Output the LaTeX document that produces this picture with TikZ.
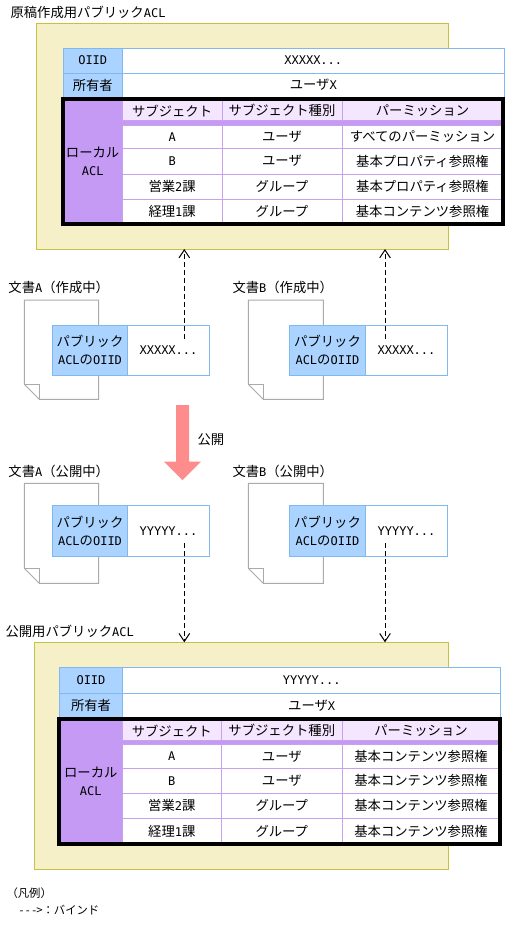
\documentclass[tikz,border=0pt]{standalone}
\usepackage{fontspec}
\setmainfont{Noto Sans CJK JP}
\newfontfamily\hwfont{DejaVu Sans Mono}
\newcommand\hw[1]{{\hwfont\fontsize{9}{13.5}\selectfont #1}}
\usetikzlibrary{arrows.meta}
\definecolor{yfill}{HTML}{F5F0C8}
\definecolor{yline}{HTML}{C8C040}
\definecolor{bfill}{HTML}{AAD4FF}
\definecolor{bline}{HTML}{80B8F0}
\definecolor{pfill}{HTML}{C49AF5}
\definecolor{plight}{HTML}{F5E6FF}
\definecolor{pline}{HTML}{C8A0F0}
\definecolor{arrowpink}{HTML}{FF8C8C}
\definecolor{docline}{HTML}{AAAAAA}
\def\bx#1#2#3#4#5{\bxi{#1}{#4}{#5}#2;#3;}
\def\bxi#1#2#3#4,#5;#6,#7;{\node[#1, minimum width={(#6-#4)*0.75pt}, minimum height={(#7-#5)*0.75pt}] (#2) at ({(#4+#6)/2},{(#5+#7)/2}) {#3};}
\begin{document}
\begin{tikzpicture}[x=0.75pt,y=-0.75pt, line width=0.75pt,
 font=\fontsize{10}{13.5}\selectfont,
 box/.style={inner sep=0pt, outer sep=0pt, align=center},
 ybox/.style={box, draw=yline, fill=yfill},
 bhead/.style={box, draw=bline, fill=bfill},
 bval/.style={box, draw=bline, fill=white},
 pcol/.style={box, fill=pfill},
 phead/.style={box, draw=pline, fill=plight},
 pcell/.style={box, draw=pline, fill=white},
 frame/.style={box, draw=black, line width=3pt},
 lbl/.style={anchor=west, inner sep=0pt},
 legendfont/.style={font=\fontsize{8.5}{10}\selectfont},
 bind/.style={dash pattern=on 3.75pt off 2.25pt, -{Straight Barb[length=6pt,width=8pt]}},
 page/.style={draw=docline, fill=white},
 ]
\useasboundingbox (0,0) rectangle (509,932);

% ---------- top ACL ----------
\node[lbl] (titleA) at (10,12) {原稿作成用パブリック\hw{ACL}};
\bx{ybox}{36,23}{448.5,249}{yellowA}{}
\bx{bhead}{63,48}{122.5,73}{oiidA}{\hw{OIID}}
\bx{bval}{122.5,48}{504,73}{oiidvA}{\hw{XXXXX...}}
\bx{bhead}{63,73}{122.5,97}{ownA}{所有者}
\bx{bval}{122.5,73}{504,97}{ownvA}{ユーザ\hw{X}}
\bx{pcol}{63,98.7}{122.3,223.7}{localA}{ローカル\\\hw{ACL}}
\bx{phead}{122.3,100.7}{222,120.7}{hsA}{サブジェクト}
\bx{phead}{222,100.7}{342,120.7}{htA}{サブジェクト種別}
\bx{phead}{342,100.7}{503,120.7}{hpA}{パーミッション}
\bx{pcol}{122.3,120.7}{503,125.3}{bandA}{}
\bx{pcell}{122.3,125.3}{222,148}{s1A}{\hw{A}}
\bx{pcell}{222,125.3}{342,148}{t1A}{ユーザ}
\bx{pcell}{342,125.3}{503,148}{p1A}{すべてのパーミッション}
\bx{pcell}{122.3,148}{222,174}{s2A}{\hw{B}}
\bx{pcell}{222,148}{342,174}{t2A}{ユーザ}
\bx{pcell}{342,148}{503,174}{p2A}{基本プロパティ参照権}
\bx{pcell}{122.3,174}{222,199}{s3A}{営業\hw{2}課}
\bx{pcell}{222,174}{342,199}{t3A}{グループ}
\bx{pcell}{342,174}{503,199}{p3A}{基本プロパティ参照権}
\bx{pcell}{122.3,199}{222,223.7}{s4A}{経理\hw{1}課}
\bx{pcell}{222,199}{342,223.7}{t4A}{グループ}
\bx{pcell}{342,199}{503,223.7}{p4A}{基本コンテンツ参照権}
\bx{frame}{63,98.7}{503,223.7}{frameA}{}

% ---------- documents (draft) ----------
\node[lbl] (docA1) at (8,287.7) {文書\hw{A}（作成中）};
\node[lbl] (docB1) at (232,287.7) {文書\hw{B}（作成中）};
\draw[page] (24.3,300) -- (98.7,300) -- (98.7,399.3) -- (39.3,399.3) -- (24.3,384.3) -- cycle;
\draw[docline] (24.3,384.3) -- (39.3,384.3) -- (39.3,399.3);
\draw[page] (248.3,300) -- (323.3,300) -- (323.3,399.3) -- (263.3,399.3) -- (248.3,384.3) -- cycle;
\draw[docline] (248.3,384.3) -- (263.3,384.3) -- (263.3,399.3);
\bx{bhead}{52.3,325.3}{127.7,375.3}{pubA1}{パブリック\\\hw{ACL}の\hw{OIID}}
\bx{bval}{127.7,325.3}{209.3,375.3}{valA1}{\hw{XXXXX...}}
\bx{bhead}{289.3,325.3}{365.7,375.3}{pubB1}{パブリック\\\hw{ACL}の\hw{OIID}}
\bx{bval}{365.7,325.3}{447.3,375.3}{valB1}{\hw{XXXXX...}}
\coordinate (srcA1) at (184.3,339);
\coordinate (srcB1) at (385,339);
\draw[bind] (srcA1) -- (srcA1 |- yellowA.south);
\draw[bind] (srcB1) -- (srcB1 |- yellowA.south);

% ---------- publish arrow ----------
\fill[arrowpink] (176,405) -- (189,405) -- (189,461.7) -- (201,461.7) -- (182.5,480) -- (164,461.7) -- (176,461.7) -- cycle;
\node[lbl] (pub) at (197,440) {公開};

% ---------- documents (published) ----------
\node[lbl] (docA2) at (8,471) {文書\hw{A}（公開中）};
\node[lbl] (docB2) at (232,471) {文書\hw{B}（公開中）};
\draw[page] (24.3,483.3) -- (98.7,483.3) -- (98.7,583.3) -- (39.3,583.3) -- (24.3,568.3) -- cycle;
\draw[docline] (24.3,568.3) -- (39.3,568.3) -- (39.3,583.3);
\draw[page] (248.3,483.3) -- (323.3,483.3) -- (323.3,583.3) -- (263.3,583.3) -- (248.3,568.3) -- cycle;
\draw[docline] (248.3,568.3) -- (263.3,568.3) -- (263.3,583.3);
\bx{bhead}{52.3,505.5}{127.7,556}{pubA2}{パブリック\\\hw{ACL}の\hw{OIID}}
\bx{bval}{127.7,505.5}{209.3,556}{valA2}{\hw{YYYYY...}}
\bx{bhead}{289.3,505.5}{365.7,556}{pubB2}{パブリック\\\hw{ACL}の\hw{OIID}}
\bx{bval}{365.7,505.5}{447.3,556}{valB2}{\hw{YYYYY...}}

% ---------- bottom ACL ----------
\node[lbl] (titleB) at (5,631.7) {公開用パブリック\hw{ACL}};
\bx{ybox}{34.3,642.3}{448.7,869}{yellowB}{}
\coordinate (srcA2) at (184.3,543);
\coordinate (srcB2) at (385,543);
\draw[bind] (srcA2) -- (srcA2 |- yellowB.north);
\draw[bind] (srcB2) -- (srcB2 |- yellowB.north);
\bx{bhead}{59.3,667.7}{122.7,693.3}{oiidB}{\hw{OIID}}
\bx{bval}{122.7,667.7}{500.7,693.3}{oiidvB}{\hw{YYYYY...}}
\bx{bhead}{59.3,693.3}{122.7,717}{ownB}{所有者}
\bx{bval}{122.7,693.3}{500.7,717}{ownvB}{ユーザ\hw{X}}
\bx{pcol}{59.3,718.7}{122.3,843.7}{localB}{ローカル\\\hw{ACL}}
\bx{phead}{122.3,720.7}{221.3,740.7}{hsB}{サブジェクト}
\bx{phead}{221.3,720.7}{342.3,740.7}{htB}{サブジェクト種別}
\bx{phead}{342.3,720.7}{499.7,740.7}{hpB}{パーミッション}
\bx{pcol}{122.3,740.7}{499.7,744.7}{bandB}{}
\bx{pcell}{122.3,744.7}{221.3,768.3}{s1B}{\hw{A}}
\bx{pcell}{221.3,744.7}{342.3,768.3}{t1B}{ユーザ}
\bx{pcell}{342.3,744.7}{499.7,768.3}{p1B}{基本コンテンツ参照権}
\bx{pcell}{122.3,768.3}{221.3,793.3}{s2B}{\hw{B}}
\bx{pcell}{221.3,768.3}{342.3,793.3}{t2B}{ユーザ}
\bx{pcell}{342.3,768.3}{499.7,793.3}{p2B}{基本コンテンツ参照権}
\bx{pcell}{122.3,793.3}{221.3,818.3}{s3B}{営業\hw{2}課}
\bx{pcell}{221.3,793.3}{342.3,818.3}{t3B}{グループ}
\bx{pcell}{342.3,793.3}{499.7,818.3}{p3B}{基本コンテンツ参照権}
\bx{pcell}{122.3,818.3}{221.3,843.7}{s4B}{経理\hw{1}課}
\bx{pcell}{221.3,818.3}{342.3,843.7}{t4B}{グループ}
\bx{pcell}{342.3,818.3}{499.7,843.7}{p4B}{基本コンテンツ参照権}
\bx{frame}{59.3,718.7}{499.7,843.7}{frameB}{}

% ---------- legend ----------
\node[lbl, legendfont] (legend) at (6,893) {（凡例）};
\node[lbl, legendfont] (legendbind) at (19,910) {- - ->：バインド};
\end{tikzpicture}
\end{document}
